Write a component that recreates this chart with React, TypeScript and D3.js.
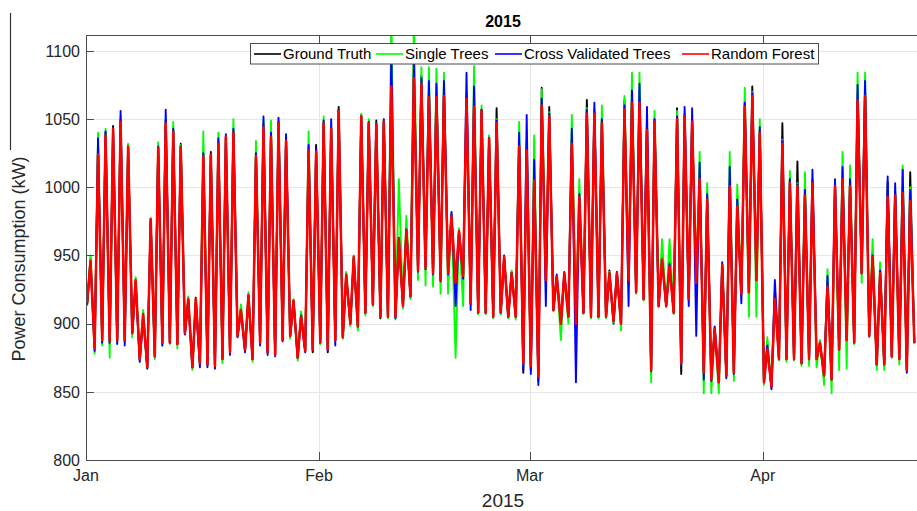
import React from "react";
import * as d3 from "d3";

// ---------- data (kW) ----------
// Daily peak value of each series, day index 0 = 1 Jan 2015
const rfPeak = [946,1024,1038,1043,1048,1030,932,907,977,1029,1047,1041,1030,918,918,1023,1024,1032,1037,1040,910,921,1023,1044,1037,1047,1034,917,905,1027,1026,1047,1043,1056,936,949,1052,1047,1046,1048,1074,962,968,1080,1076,1066,1066,1067,979,968,1065,1059,1056,1036,1047,949,937,1030,1027,1005,1060,1052,935,937,1032,993,1054,1054,1047,937,937,1057,1062,1062,1042,1048,947,942,1050,1052,1048,1006,991,896,943,1001,986,1059,1067,1040,881,918,1032,1003,1001,994,1003,886,927,1001,1006,1001,1064,1067,949,937,993,994,996,990];
const gtPeak = [948,1030,1040,1045,1050,1031,930,906,975,1030,1049,1042,1032,917,919,1022,1026,1033,1037,1041,911,920,1024,1046,1039,1048,1035,916,907,1029,1031,1048,1044,1059,935,948,1053,1048,1049,1050,1080,962,970,1085,1082,1070,1070,1072,980,968,1066,1062,1057,1037,1058,950,938,1032,1030,1008,1073,1059,934,936,1034,990,1064,1056,1049,939,936,1064,1066,1066,1045,1050,950,945,1058,1053,1050,1008,993,896,943,1004,988,1062,1074,1042,882,920,1047,1005,1019,996,1005,886,930,1002,1008,1003,1068,1070,952,938,1004,996,1000,1011];
const stPeak = [950,1040,1043,1040,1052,1032,934,910,974,1033,1050,1048,1031,920,918,1041,1022,1040,1035,1050,914,923,1034,1049,1049,1049,1036,918,909,1041,1027,1052,1045,1057,938,950,1054,1050,1047,1049,1125,1006,979,1125,1088,1088,1087,1084,980,970,1070,1089,1060,1038,1050,948,939,1048,1035,1038,1072,1055,934,936,1053,1006,1058,1058,1060,938,938,1067,1084,1084,1048,1056,962,962,1056,1054,1050,1026,1003,897,944,1026,1002,1073,1070,1050,890,925,1035,1012,1003,1011,1006,888,940,1004,1026,1016,1084,1084,962,945,1000,998,1016,1000];
const cvPeak = [945,1036,1041,1042,1056,1028,930,905,976,1030,1057,1043,1030,917,916,1025,1024,1036,1039,1043,909,920,1025,1052,1040,1051,1039,916,906,1031,1028,1049,1050,1057,935,948,1052,1048,1047,1049,1100,963,969,1092,1080,1078,1076,1078,982,967,1084,1074,1057,1036,1049,948,937,1040,1053,1020,1065,1054,936,938,1043,995,1057,1062,1050,936,938,1060,1071,1076,1059,1050,946,944,1052,1059,1058,1018,995,898,945,1015,991,1062,1069,1044,884,932,1034,1006,1002,998,1013,885,935,1006,1015,1006,1075,1078,950,939,1008,1003,1013,998];

// Trough before each day's peak (last entry = trough at the end of the record)
const rfLow = [915,882,888,887,888,888,893,874,868,876,886,886,885,893,868,871,870,869,874,879,891,881,874,886,879,877,888,891,875,880,881,886,881,888,890,900,898,908,914,905,905,905,913,920,939,941,937,932,937,930,935,915,908,908,905,908,905,905,871,869,861,932,910,900,905,900,908,905,905,905,902,900,932,923,918,866,913,913,908,871,918,930,864,859,857,862,864,922,923,932,857,854,874,874,874,871,874,874,862,859,881,888,886,937,891,870,870,876,874,866,886];
const gtLow = [915,884,888,885,888,888,893,874,867,876,886,886,885,893,868,871,870,869,874,879,891,881,874,886,879,877,888,891,875,880,879,886,879,888,890,900,898,908,914,904,905,905,913,920,939,941,937,932,937,930,935,915,908,908,905,908,905,905,864,866,858,932,910,900,905,900,908,905,905,905,900,900,932,923,918,866,913,913,908,863,918,930,864,859,857,862,864,922,923,932,857,854,874,874,874,871,874,874,862,859,881,888,886,937,891,870,870,876,874,866,886];
const stLow = [913,878,884,875,886,887,890,873,869,874,884,885,882,893,866,870,869,868,871,879,891,880,872,886,879,877,888,889,873,880,881,885,881,888,889,898,895,906,913,905,904,903,911,918,932,928,927,922,922,875,913,914,907,907,904,907,904,903,869,868,860,930,909,888,900,899,907,904,904,904,901,895,930,922,917,857,912,912,907,870,917,929,849,849,849,861,858,921,905,905,855,853,873,872,873,869,869,868,855,849,866,867,885,930,890,866,866,875,870,865,885];
const cvLow = [914,880,886,886,885,884,893,872,868,876,884,886,885,892,868,868,868,867,874,877,890,879,874,884,877,876,887,891,875,879,880,886,880,884,890,900,898,908,914,905,905,904,913,920,938,940,936,931,936,913,933,910,908,908,905,908,905,905,866,863,855,913,910,900,905,857,908,905,905,905,902,900,913,923,918,865,913,913,908,870,913,891,859,858,857,860,863,915,923,932,857,852,874,874,874,871,874,874,862,859,881,888,886,937,891,870,870,876,874,864,886];

const SERIES = [
  { name: "Ground Truth", color: "#000000", width: 1.9, peaks: gtPeak, lows: gtLow },
  { name: "Single Trees", color: "#00ff00", width: 1.9, peaks: stPeak, lows: stLow },
  { name: "Cross Validated Trees", color: "#0000ff", width: 1.9, peaks: cvPeak, lows: cvLow },
  { name: "Random Forest", color: "#ff0000", width: 2.5, peaks: rfPeak, lows: rfLow },
];

const yTicks = [800, 850, 900, 950, 1000, 1050, 1100];
const TITLE = "2015";
const X_LABEL = "2015";
const Y_LABEL = "Power Consumption (kW)";

// ---------- layout ----------
const W = 917;
const H = 511;
const PL = 86, PR = 916, PT = 35, PB = 460;
const DAY = 864e5;
const START = Date.UTC(2015, 0, 1);
const SPAN_DAYS = 110.37;
const FONT = "'Liberation Sans', Arial, Helvetica, sans-serif";
const TXT = "#262626";
const AX = "#4d4d4d";

const LEGEND_X = [254, 376, 495, 682];

export default function App() {
  const x = d3.scaleUtc().domain([new Date(START), new Date(START + SPAN_DAYS * DAY)]).range([PL, PR]);
  const y = d3.scaleLinear().domain([800, 1111.7]).range([PB, PT]);
  const months = d3.utcMonth.every(1)!.range(new Date(START), new Date(START + SPAN_DAYS * DAY + 1));
  const fmt = d3.utcFormat("%b");

  const line = d3
    .line<{ t: number; v: number }>()
    .x((p) => x(new Date(START + p.t * DAY)))
    .y((p) => y(p.v));

  const build = (peaks: number[], lows: number[]) => {
    const pts: { t: number; v: number }[] = [];
    for (let d = 0; d < lows.length; d++) {
      pts.push({ t: d + 0.15, v: lows[d] });
      if (d < peaks.length) pts.push({ t: d + 0.6, v: peaks[d] });
    }
    return pts;
  };

  return (
    <svg width={W} height={H} style={{ display: "block", position: "absolute", left: 0, top: 0, background: "#fff" }}>
      <defs>
        <clipPath id="plotclip">
          <rect x={PL} y={PT} width={W - PL} height={PB - PT} />
        </clipPath>
      </defs>
      <rect x={0} y={0} width={W} height={H} fill="#fff" />
      {/* stray line at left */}
      <line x1={10.5} x2={10.5} y1={13} y2={150} stroke="#333" strokeWidth={1.2} />

      {/* grid */}
      {yTicks.filter((t) => t > 800).map((t) => (
        <line key={"gy" + t} x1={PL} x2={W} y1={Math.round(y(t)) + 0.5} y2={Math.round(y(t)) + 0.5} stroke="#e6e6e6" strokeWidth={1} />
      ))}
      {months.slice(1).map((m) => (
        <line key={"gx" + m.getTime()} x1={Math.round(x(m)) + 0.5} x2={Math.round(x(m)) + 0.5} y1={PT} y2={PB} stroke="#e6e6e6" strokeWidth={1} />
      ))}

      {/* series */}
      <g clipPath="url(#plotclip)">
        {SERIES.map((s) => (
          <path key={s.name} d={line(build(s.peaks, s.lows)) || ""} fill="none" stroke={s.color} strokeWidth={s.width} strokeLinejoin="round" />
        ))}
      </g>

      {/* axes box */}
      <line x1={PL + 0.5} x2={PL + 0.5} y1={PT} y2={PB + 0.5} stroke={AX} strokeWidth={1} />
      <line x1={PL} x2={W} y1={PB + 0.5} y2={PB + 0.5} stroke={AX} strokeWidth={1} />
      <line x1={PL} x2={W} y1={PT + 0.5} y2={PT + 0.5} stroke={AX} strokeWidth={1} />

      {/* y ticks */}
      {yTicks.map((t) => (
        <g key={"yt" + t}>
          <line x1={PL} x2={PL + 8} y1={Math.round(y(t)) + 0.5} y2={Math.round(y(t)) + 0.5} stroke={AX} strokeWidth={1} />
          <text x={PL - 6} y={y(t)} dy="0.36em" textAnchor="end" fontFamily={FONT} fontSize={16} fill={TXT}>
            {t}
          </text>
        </g>
      ))}
      {/* x ticks */}
      {months.map((m) => (
        <g key={"xt" + m.getTime()}>
          <line x1={Math.round(x(m)) + 0.5} x2={Math.round(x(m)) + 0.5} y1={PB} y2={PB - 8} stroke={AX} strokeWidth={1} />
          <line x1={Math.round(x(m)) + 0.5} x2={Math.round(x(m)) + 0.5} y1={PT} y2={PT + 8} stroke={AX} strokeWidth={1} />
          <text x={x(m)} y={481} textAnchor="middle" fontFamily={FONT} fontSize={16} fill={TXT}>
            {fmt(m)}
          </text>
        </g>
      ))}

      {/* labels */}
      <text x={503} y={27} textAnchor="middle" fontFamily={FONT} fontSize={16} fontWeight="bold" fill="#000">
        {TITLE}
      </text>
      <text x={503} y={507} textAnchor="middle" fontFamily={FONT} fontSize={19} fill={TXT}>
        {X_LABEL}
      </text>
      <text transform="translate(25,259) rotate(-90)" textAnchor="middle" fontFamily={FONT} fontSize={18} fill={TXT}>
        {Y_LABEL}
      </text>

      {/* legend */}
      <rect x={250.5} y={43.5} width={568} height={20.5} fill="#fff" stroke={AX} strokeWidth={1} />
      {SERIES.map((s, i) => (
        <g key={"lg" + s.name}>
          <line x1={LEGEND_X[i]} x2={LEGEND_X[i] + 27} y1={54} y2={54} stroke={s.color} strokeWidth={1.6} />
          <text x={LEGEND_X[i] + 29} y={59.3} fontFamily={FONT} fontSize={15} fill="#000">
            {s.name}
          </text>
        </g>
      ))}
    </svg>
  );
}
